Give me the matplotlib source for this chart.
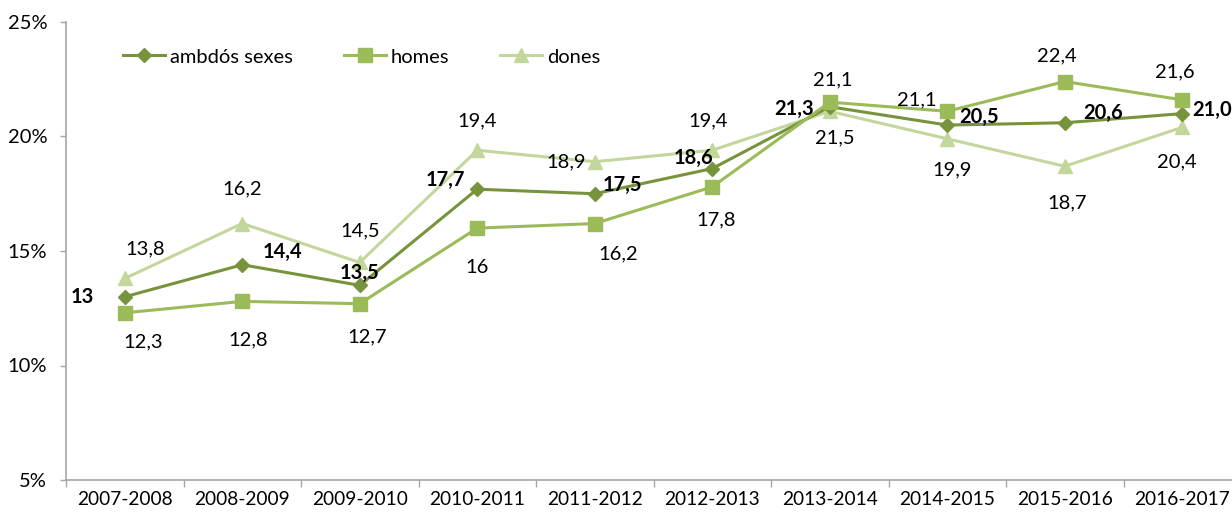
import matplotlib.pyplot as plt
from matplotlib.ticker import FixedLocator, FuncFormatter

plt.rcParams['font.family'] = ['Lato', 'DejaVu Sans']

years = ["2007-2008", "2008-2009", "2009-2010", "2010-2011", "2011-2012",
         "2012-2013", "2013-2014", "2014-2015", "2015-2016", "2016-2017"]

# values as printed on the labels (Catalan decimal comma)
ambdos_txt = ["13", "14,4", "13,5", "17,7", "17,5", "18,6", "21,3", "20,5", "20,6", "21,0"]
homes_txt = ["12,3", "12,8", "12,7", "16", "16,2", "17,8", "21,5", "21,1", "22,4", "21,6"]
dones_txt = ["13,8", "16,2", "14,5", "19,4", "18,9", "19,4", "21,1", "19,9", "18,7", "20,4"]

ambdos = [float(s.replace(",", ".")) for s in ambdos_txt]
homes = [float(s.replace(",", ".")) for s in homes_txt]
dones = [float(s.replace(",", ".")) for s in dones_txt]

# label offsets in pixels (dx, dy)
ambdos_off = [(-42, 0), (40, 13), (0, 12), (-32, 9), (28, 9), (-19, 11),
              (-36, -2), (32, 8), (38, 10), (30, 4)]
homes_off = [(18, -29), (6, -38), (7, -33), (0, -39), (23, -30), (4, -33),
             (5, -36), (-30, 11), (-8, 26), (-7, 28)]
dones_off = [(20, 30), (0, 35), (0, 32), (0, 29), (-29, 0), (-4, 29),
             (3, 31), (5, -31), (2, -37), (-5, -35)]

c_amb = "#77933C"
c_hom = "#9BBB59"
c_don = "#C3D69B"
fs = 14.5

fig = plt.figure(figsize=(12.32, 5.15), dpi=100)
ax = fig.add_axes([66 / 1232, 35 / 515, 1175 / 1232, 458 / 515])

x = list(range(len(years)))
ax.plot(x, dones, color=c_don, lw=2.2, marker="^", ms=10, label="dones", zorder=2)
ax.plot(x, ambdos, color=c_amb, lw=2.2, marker="D", ms=7, label="ambdós sexes", zorder=3)
ax.plot(x, homes, color=c_hom, lw=2.2, marker="s", ms=9.5, label="homes", zorder=4)

for i in x:
    ax.annotate(ambdos_txt[i], (i, ambdos[i]), xytext=ambdos_off[i], textcoords="offset pixels",
                ha="center", va="center", fontsize=fs, fontweight="bold", color="black", zorder=6)
    ax.annotate(homes_txt[i], (i, homes[i]), xytext=homes_off[i], textcoords="offset pixels",
                ha="center", va="center", fontsize=fs, color="black", zorder=6)
    ax.annotate(dones_txt[i], (i, dones[i]), xytext=dones_off[i], textcoords="offset pixels",
                ha="center", va="center", fontsize=fs, color="black", zorder=6)

ax.set_xlim(-0.5, len(years) - 0.5)
ax.set_ylim(5, 25)
ax.set_yticks([5, 10, 15, 20, 25])
ax.yaxis.set_major_formatter(FuncFormatter(lambda v, p: f"{v:.0f}%"))

# tick marks between categories, labels centred on them
ax.xaxis.set_major_locator(FixedLocator([i - 0.5 for i in range(len(years) + 1)]))
ax.xaxis.set_major_formatter(FuncFormatter(lambda v, p: ""))
ax.xaxis.set_minor_locator(FixedLocator(x))
ax.set_xticklabels(years, minor=True)
ax.tick_params(axis="x", which="major", length=5, width=1, color="#A6A6A6", direction="out")
ax.tick_params(axis="x", which="minor", length=0, pad=8, labelsize=13.8)
ax.tick_params(axis="y", length=4.5, width=1, color="#A6A6A6", pad=9, labelsize=14.5)

for side in ["top", "right"]:
    ax.spines[side].set_visible(False)
for side in ["left", "bottom"]:
    ax.spines[side].set_color("#A6A6A6")
    ax.spines[side].set_linewidth(1.2)

handles, labels = ax.get_legend_handles_labels()
order = [1, 2, 0]
ax.legend([handles[k] for k in order], [labels[k] for k in order],
          loc="center left", bbox_to_anchor=(123 / 1232, 1 - 57 / 515),
          bbox_transform=fig.transFigure, ncol=3, frameon=False, fontsize=fs,
          borderpad=0, borderaxespad=0, handlelength=2.1, handletextpad=0.25,
          columnspacing=2.5)

fig.savefig("out.png", dpi=100)
